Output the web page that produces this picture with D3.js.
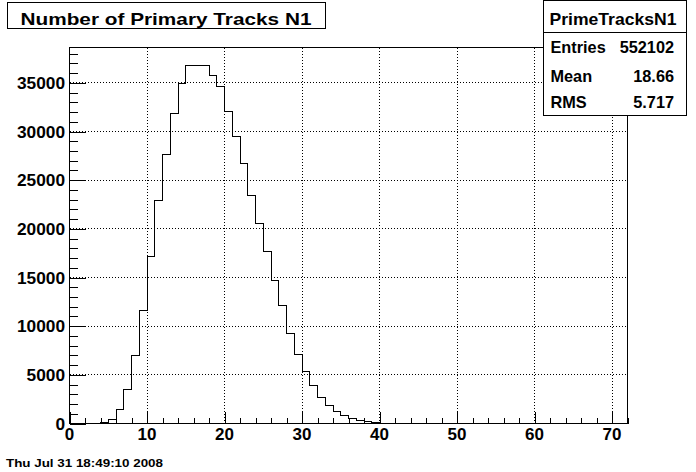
<!DOCTYPE html>
<html>
<head>
<meta charset="utf-8">
<script src="https://cdn.jsdelivr.net/npm/d3@7"></script>
<style>
  html, body { margin: 0; padding: 0; background: #fff; }
  svg { display: block; }
  text { font-family: "Liberation Sans", Arial, Helvetica, sans-serif; font-weight: bold; fill: #000; }
</style>
</head>
<body>
<svg id="chart" width="696" height="472"></svg>
<script>
// ---- data ----
const title = "Number of Primary Tracks N1";
const histName = "PrimeTracksN1";
const statsLabels = ["Entries", "Mean", "RMS"];
const statsValues = ["552102", "18.66", "5.717"];
const dateText = "Thu Jul 31 18:49:10 2008";
// bin lower edges 0..71 (bin width 1)
const binLow = d3.range(0, 72);
const counts = [
  0, 0, 0, 0, 80, 450, 1460, 3490, 7020, 11650,
  17200, 22920, 27650, 31890, 34940, 36780, 36800, 36790, 35800, 34630,
  32070, 29500, 26720, 23430, 20550, 17640, 14700, 12130, 9250, 7090,
  5340, 3940, 2670, 1850, 1230, 820, 510, 310, 180, 90,
  50, 20, 0, 0, 0, 0, 0, 0, 0, 0,
  0, 0, 0, 0, 0, 0, 0, 0, 0, 0,
  0, 0, 0, 0, 0, 0, 0, 0, 0, 0,
  0, 0
];
const xMajor = [0, 10, 20, 30, 40, 50, 60, 70];
const xTickLabels = ["0", "10", "20", "30", "40", "50", "60", "70"];
const yMajor = [0, 5000, 10000, 15000, 20000, 25000, 30000, 35000];
const yTickLabels = ["0", "5000", "10000", "15000", "20000", "25000", "30000", "35000"];

// ---- layout ----
const svg = d3.select("#chart");
const L = 69.5, R = 627.5, T = 47.5, B = 423.5;
const xMax = 72;
const yMaxVal = d3.max(counts) * 1.05;
const x = d3.scaleLinear().domain([0, xMax]).range([L, R]);
const y = d3.scaleLinear().domain([0, yMaxVal]).range([B, T]);

// grid (dotted)
const grid = svg.append("g").attr("stroke", "#000").attr("stroke-width", 1)
  .attr("stroke-dasharray", "1,2").attr("shape-rendering", "crispEdges");
xMajor.filter(v => v > 0).forEach(v => {
  grid.append("line").attr("x1", x(v)).attr("x2", x(v)).attr("y1", B).attr("y2", T);
});
yMajor.filter(v => v > 0).forEach(v => {
  grid.append("line").attr("x1", L).attr("x2", R).attr("y1", y(v)).attr("y2", y(v));
});

// histogram outline
let pts = [[x(0), y(0)]];
binLow.forEach((b, i) => {
  pts.push([x(b), y(counts[i])]);
  pts.push([x(b + 1), y(counts[i])]);
});
pts.push([x(xMax), y(0)]);
svg.append("path").attr("d", d3.line()(pts)).attr("fill", "none")
  .attr("stroke", "#000").attr("stroke-width", 1).attr("shape-rendering", "crispEdges");

// frame
svg.append("rect").attr("x", L).attr("y", T).attr("width", R - L).attr("height", B - T)
  .attr("fill", "none").attr("stroke", "#000").attr("stroke-width", 1).attr("shape-rendering", "crispEdges");

// axes ticks (inward, ROOT style)
const xTickLen = 0.03 * (B - T), yTickLen = 0.03 * (R - L);
const xAxis = d3.axisTop(x).tickValues(d3.range(0, xMax + 0.01, 2))
  .tickSize(0).tickFormat("");
const gx = svg.append("g").attr("transform", `translate(0,${B})`).call(xAxis);
gx.select(".domain").remove();
gx.selectAll(".tick line")
  .attr("y2", d => (d % 10 === 0 ? -xTickLen : -xTickLen / 2))
  .attr("stroke", "#000").attr("shape-rendering", "crispEdges");

const yAxis = d3.axisRight(y).tickValues(d3.range(0, 38001, 1000))
  .tickSize(0).tickFormat("");
const gy = svg.append("g").attr("transform", `translate(${L},0)`).call(yAxis);
gy.select(".domain").remove();
gy.selectAll(".tick line")
  .attr("x2", d => (d % 5000 === 0 ? yTickLen : yTickLen / 2))
  .attr("stroke", "#000").attr("shape-rendering", "crispEdges");

// tick labels
xMajor.forEach((v, i) => {
  svg.append("text").attr("x", x(v)).attr("y", 440).attr("text-anchor", "middle")
    .attr("font-size", 17).text(xTickLabels[i]);
});
yMajor.forEach((v, i) => {
  svg.append("text").attr("x", 65).attr("y", y(v)).attr("dy", "0.36em").attr("text-anchor", "end")
    .attr("font-size", 17.3).text(yTickLabels[i]);
});

// title box
svg.append("rect").attr("x", 7.5).attr("y", 2.5).attr("width", 318).attr("height", 26)
  .attr("fill", "#fff").attr("stroke", "#000").attr("stroke-width", 1);
svg.append("text").attr("x", 166).attr("y", 25).attr("text-anchor", "middle")
  .attr("font-size", 17).attr("textLength", 291).attr("lengthAdjust", "spacingAndGlyphs").text(title);

// stats box
svg.append("rect").attr("x", 543.5).attr("y", 0.5).attr("width", 143).attr("height", 115)
  .attr("fill", "#fff").attr("stroke", "#000").attr("stroke-width", 1);
svg.append("line").attr("x1", 543.5).attr("x2", 686.5).attr("y1", 32.5).attr("y2", 32.5)
  .attr("stroke", "#000");
svg.append("text").attr("x", 613).attr("y", 25).attr("text-anchor", "middle")
  .attr("font-size", 16.5).attr("textLength", 127).attr("lengthAdjust", "spacingAndGlyphs").text(histName);
const rowY = [53.3, 82.3, 108.3];
statsLabels.forEach((lab, i) => {
  svg.append("text").attr("x", 550.5).attr("y", rowY[i]).attr("font-size", 16.3).text(lab);
  svg.append("text").attr("x", 674).attr("y", rowY[i]).attr("text-anchor", "end")
    .attr("font-size", 16.3).text(statsValues[i]);
});

// date
svg.append("text").attr("x", 6).attr("y", 467).attr("font-size", 11.5)
  .attr("textLength", 157).attr("lengthAdjust", "spacingAndGlyphs").text(dateText);
</script>
</body>
</html>
